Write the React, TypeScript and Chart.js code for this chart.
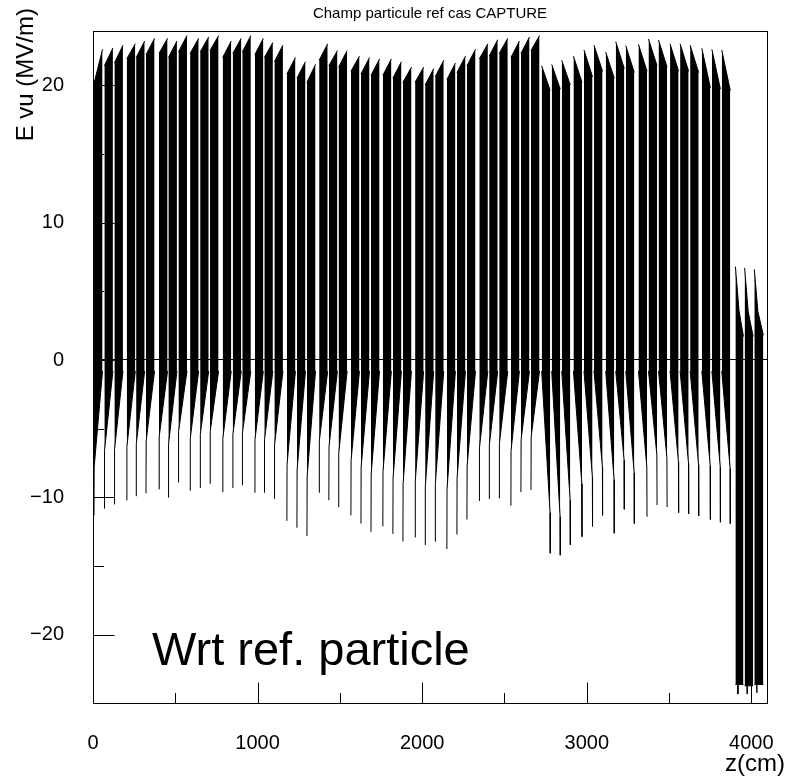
import React, { useEffect, useRef } from 'react';
import { Chart, registerables } from 'chart.js';

Chart.register(...registerables);

const FONT = '"Liberation Sans", Arial, Helvetica, sans-serif';
const TITLE = 'Champ particule ref cas CAPTURE';
const Y_TITLE = 'E vu (MV/m)';
const X_TITLE = 'z(cm)';
const NOTE = 'Wrt ref. particle';

// Axis ticks
const xMajorTicks = [0, 1000, 2000, 3000, 4000];
const xMinorTicks = [500, 1500, 2500, 3500];
const yMajorTicks = [-20, -10, 0, 10, 20];
const yMinorTicks = [-15, -5, 5, 15];

// Cells before phase reversal: spike at the upstream edge (z in cm)
const riseSpikeZ = [6, 69, 130, 205, 262, 322, 401, 458, 519, 590, 651, 711, 788, 849, 907, 983, 1041, 1102,
  1178, 1239, 1300, 1374, 1433, 1492, 1567, 1628, 1689, 1761, 1822, 1883, 1957, 2018, 2079, 2150, 2211, 2272,
  2347, 2407, 2468, 2539, 2600, 2661];
const riseTopBase = [20.1, 21.4, 21.6, 21.9, 22.0, 22.2, 22.3, 22.0, 22.4, 22.3, 22.4, 22.5, 22.0, 22.3, 22.4,
  22.2, 22.0, 21.7, 20.8, 20.5, 20.2, 21.8, 21.4, 21.3, 21.0, 20.8, 20.7, 20.7, 20.5, 20.2, 20.2, 20.0, 20.6,
  20.4, 20.9, 21.4, 21.9, 22.1, 22.3, 22.0, 22.3, 22.5];
const riseTopPeak = [22.6, 22.7, 22.9, 23.0, 23.2, 23.4, 23.4, 23.2, 23.6, 23.4, 23.5, 23.6, 23.2, 23.4, 23.6,
  23.4, 23.1, 22.9, 22.0, 21.7, 21.5, 23.0, 22.5, 22.5, 22.1, 22.0, 21.9, 21.9, 21.7, 21.3, 21.3, 21.2, 21.8,
  21.6, 22.1, 22.6, 23.0, 23.3, 23.4, 23.2, 23.5, 23.6];
const riseNegSpike = [-11.3, -10.8, -10.5, -10.2, -9.9, -9.7, -9.4, -10.0, -8.9, -9.5, -9.3, -9.0, -9.6, -9.3, -9.1,
  -9.65, -9.65, -10.1, -11.7, -12.2, -12.8, -9.65, -10.2, -10.7, -11.3, -11.9, -12.5, -12.1, -12.65, -13.2,
  -12.9, -13.45, -13.2, -13.75, -12.7, -11.6, -10.25, -10.1, -10.06, -10.6, -9.6, -9.45];
const riseNegWedge = [-7.8, -6.6, -6.5, -6.3, -6.1, -5.9, -5.6, -6.1, -5.2, -5.7, -5.4, -5.2, -5.7, -5.4, -5.3,
  -5.8, -5.8, -6.2, -7.6, -8.0, -8.5, -5.9, -6.3, -6.8, -7.3, -7.8, -8.3, -8.1, -8.6, -9.0, -8.8, -9.2, -9.0,
  -9.4, -8.6, -7.7, -6.4, -6.2, -6.1, -6.6, -5.8, -5.6];

// Cells after phase reversal: spike at the downstream edge (z in cm)
const fallSpikeZ = [2778, 2839, 2900, 2971, 3035, 3096, 3167, 3228, 3289, 3366, 3427, 3488, 3558, 3619, 3680,
  3751, 3812, 3872];
const fallTopPeak = [21.4, 21.5, 21.8, 22.1, 22.55, 22.9, 22.4, 23.15, 22.86, 22.96, 23.35, 23.27, 23.0, 23.0,
  22.9, 22.67, 22.6, 22.55];
const fallTopBase = [19.6, 19.7, 20.0, 20.2, 20.6, 21.0, 20.5, 21.2, 20.9, 21.0, 21.4, 21.3, 21.0, 21.0, 20.9,
  19.8, 19.7, 19.6];
const fallNegSpike = [-14.06, -14.2, -13.45, -12.85, -12.1, -11.3, -12.6, -10.86, -11.9, -11.4, -10.55, -10.7,
  -11.1, -11.2, -11.35, -11.6, -11.8, -11.9];
const fallNegWedge = [-11.1, -11.4, -10.2, -9.0, -8.5, -7.8, -8.7, -7.3, -8.2, -7.8, -6.9, -7.1, -7.4, -7.5, -7.6,
  -7.7, -7.8, -7.9];

// Last three (decelerating) cells
const tailStartZ = [3903, 3959, 4018];
const tailEndZ = [3952, 4011, 4073];
const tailTopPeak = [6.8, 6.7, 6.6];
const tailTopKnee = [3.6, 3.5, 3.5];
const tailTopEnd = [1.7, 1.7, 1.8];
const tailBottom = [-23.6, -23.7, -23.6];
const tailNegSpike = [-24.3, -24.3, -24.2];

const CELL_LENGTH_CM = 52;
const EDGE_FIELD = -0.8;

type P = { x: number; y: number | null };

function buildUpper(): P[] {
  const pts: P[] = [];
  riseSpikeZ.forEach((z, i) => {
    pts.push({ x: z, y: riseTopBase[i] }, { x: z + CELL_LENGTH_CM, y: riseTopPeak[i] }, { x: z + CELL_LENGTH_CM + 1, y: null });
  });
  fallSpikeZ.forEach((z, i) => {
    pts.push({ x: z - CELL_LENGTH_CM, y: fallTopPeak[i] }, { x: z, y: fallTopBase[i] }, { x: z + 1, y: null });
  });
  tailStartZ.forEach((z, i) => {
    pts.push({ x: z, y: tailTopPeak[i] }, { x: z + 22, y: tailTopKnee[i] }, { x: tailEndZ[i], y: tailTopEnd[i] }, { x: tailEndZ[i] + 1, y: null });
  });
  return pts;
}

function buildLower(): P[] {
  const pts: P[] = [];
  riseSpikeZ.forEach((z, i) => {
    pts.push({ x: z, y: riseNegSpike[i] }, { x: z + 1, y: riseNegWedge[i] }, { x: z + CELL_LENGTH_CM, y: EDGE_FIELD }, { x: z + CELL_LENGTH_CM + 1, y: null });
  });
  fallSpikeZ.forEach((z, i) => {
    pts.push({ x: z - CELL_LENGTH_CM, y: EDGE_FIELD }, { x: z - 1, y: fallNegWedge[i] }, { x: z, y: fallNegSpike[i] }, { x: z + 1, y: null });
  });
  tailStartZ.forEach((z, i) => {
    pts.push({ x: z, y: tailBottom[i] }, { x: z + 14, y: tailBottom[i] }, { x: z + 15, y: tailNegSpike[i] }, { x: z + 16, y: tailBottom[i] }, { x: tailEndZ[i], y: tailBottom[i] }, { x: tailEndZ[i] + 1, y: null });
  });
  return pts;
}

const fmt = (v: number) => (v < 0 ? '\u2212' + Math.abs(v) : String(v));

const zeroScalePadding = (s: any) => {
  s.paddingTop = 0;
  s.paddingBottom = 0;
  s.paddingLeft = 0;
  s.paddingRight = 0;
};

const decorPlugin = {
  id: 'decor',
  afterDatasetsDraw(chart: any) {
    const { ctx, chartArea: a, scales } = chart;
    const xs = scales.x;
    const ys = scales.y;
    ctx.save();
    ctx.strokeStyle = '#000';
    ctx.lineWidth = 1;
    ctx.beginPath();
    const L = Math.round(a.left) + 0.5;
    const B = Math.round(a.bottom) + 0.5;
    yMajorTicks.forEach((v) => { const y = Math.round(ys.getPixelForValue(v)) + 0.5; ctx.moveTo(L, y); ctx.lineTo(L + 21, y); });
    yMinorTicks.forEach((v) => { const y = Math.round(ys.getPixelForValue(v)) + 0.5; ctx.moveTo(L, y); ctx.lineTo(L + 10.5, y); });
    xMajorTicks.forEach((v) => { const x = Math.round(xs.getPixelForValue(v)) + 0.5; ctx.moveTo(x, B); ctx.lineTo(x, B - 21); });
    xMinorTicks.forEach((v) => { const x = Math.round(xs.getPixelForValue(v)) + 0.5; ctx.moveTo(x, B); ctx.lineTo(x, B - 10.5); });
    ctx.stroke();
    ctx.strokeRect(Math.round(a.left) + 0.5, Math.round(a.top) + 0.5, Math.round(a.right - a.left), Math.round(a.bottom - a.top));
    ctx.restore();
  },
  afterDraw(chart: any) {
    const { ctx, chartArea: a } = chart;
    ctx.save();
    ctx.fillStyle = '#000';
    ctx.font = `15px ${FONT}`;
    ctx.textAlign = 'center';
    ctx.textBaseline = 'middle';
    ctx.fillText(TITLE, (a.left + a.right) / 2, 14);
    ctx.restore();

    ctx.save();
    ctx.fillStyle = '#000';
    ctx.font = `24px ${FONT}`;
    ctx.translate(33, 8);
    ctx.rotate(-Math.PI / 2);
    ctx.textAlign = 'right';
    ctx.textBaseline = 'alphabetic';
    ctx.fillText(Y_TITLE, 0, 0);
    ctx.restore();

    ctx.save();
    ctx.fillStyle = '#000';
    ctx.font = `24px ${FONT}`;
    ctx.textAlign = 'right';
    ctx.textBaseline = 'alphabetic';
    ctx.fillText(X_TITLE, 785, 771);
    ctx.font = `47px ${FONT}`;
    ctx.textAlign = 'left';
    ctx.fillText(NOTE, 152, 665);
    ctx.restore();
  },
};

export default function App() {
  const ref = useRef<HTMLCanvasElement | null>(null);
  useEffect(() => {
    if (!ref.current) return;
    const chart = new Chart(ref.current, {
      type: 'line',
      data: {
        datasets: [
          {
            data: buildUpper() as any,
            borderColor: '#000',
            backgroundColor: '#000',
            borderWidth: 1,
            pointRadius: 0,
            fill: 'origin',
            tension: 0,
            spanGaps: false,
          },
          {
            data: buildLower() as any,
            borderColor: '#000',
            backgroundColor: '#000',
            borderWidth: 1,
            pointRadius: 0,
            fill: 'origin',
            tension: 0,
            spanGaps: false,
          },
        ],
      },
      options: {
        responsive: false,
        animation: false,
        devicePixelRatio: 1,
        layout: { padding: { left: 0, right: 31, top: 31, bottom: 0 } },
        plugins: {
          legend: { display: false },
          tooltip: { enabled: false },
          title: { display: false },
        },
        scales: {
          x: {
            type: 'linear',
            min: 0,
            max: 4095,
            afterBuildTicks: (s: any) => { s.ticks = xMajorTicks.map((v) => ({ value: v })); },
            afterFit: (s: any) => { s.height = 74; zeroScalePadding(s); },
            ticks: {
              autoSkip: false,
              maxRotation: 0,
              color: '#000',
              padding: 28,
              font: { family: FONT, size: 20 },
              callback: (v: any) => fmt(Number(v)),
            },
            grid: { display: false, drawTicks: false },
            border: { display: true, color: '#000', width: 1 },
          },
          y: {
            type: 'linear',
            min: -24.95,
            max: 23.93,
            afterBuildTicks: (s: any) => { s.ticks = yMajorTicks.map((v) => ({ value: v })); },
            afterFit: (s: any) => { s.width = 93; zeroScalePadding(s); },
            ticks: {
              autoSkip: false,
              color: '#000',
              padding: 29,
              font: { family: FONT, size: 20 },
              callback: (v: any) => fmt(Number(v)),
            },
            grid: {
              drawTicks: false,
              lineWidth: 1,
              color: (c: any) => (c.tick && c.tick.value === 0 ? '#000' : 'rgba(0,0,0,0)'),
            },
            border: { display: true, color: '#000', width: 1 },
          },
        },
      },
      plugins: [decorPlugin],
    });
    return () => chart.destroy();
  }, []);
  return (
    <div style={{ position: 'fixed', left: 0, top: 0, width: 798, height: 777, background: '#fff' }}>
      <canvas ref={ref} width={798} height={777} style={{ display: 'block' }} />
    </div>
  );
}
